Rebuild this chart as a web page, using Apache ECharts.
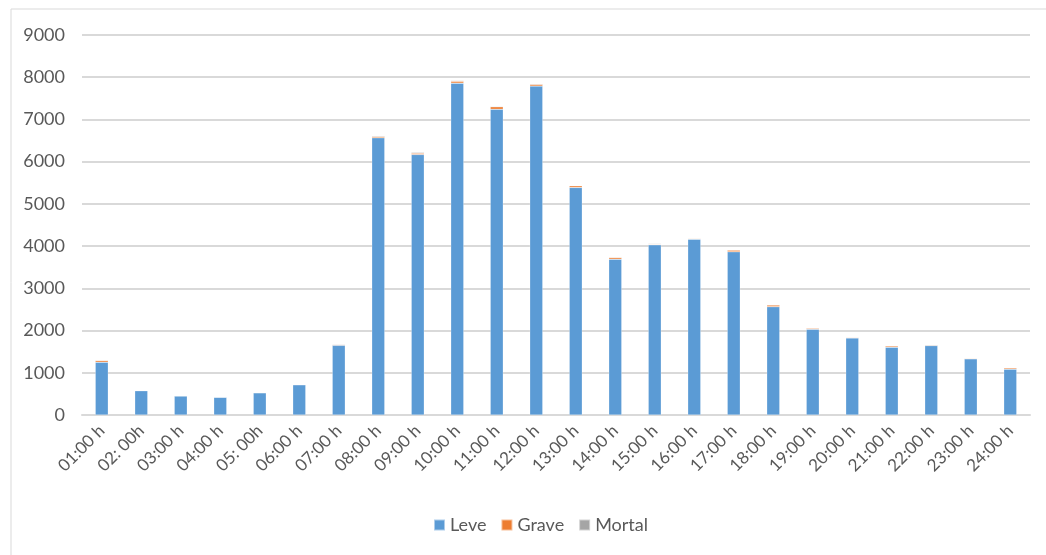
<!DOCTYPE html>
<html>
<head>
<meta charset="utf-8">
<script src="https://cdn.jsdelivr.net/npm/echarts@6/dist/echarts.min.js"></script>
<style>
    html, body { margin: 0; padding: 0; background: #fff; }
    #main { width: 1046px; height: 555px; }
</style>
</head>
<body>
<div id="main"></div>
<script>
// horas
var horas = ['01:00 h', '02: 00h', '03:00 h', '04:00 h', '05: 00h', '06:00 h', '07:00 h', '08:00 h',
    '09:00 h', '10:00 h', '11:00 h', '12:00 h', '13:00 h', '14:00 h', '15:00 h', '16:00 h',
    '17:00 h', '18:00 h', '19:00 h', '20:00 h', '21:00 h', '22:00 h', '23:00 h', '24:00 h'];

var leve = [1250, 575, 450, 420, 525, 715, 1650, 6565, 6170, 7860, 7240, 7790, 5390, 3690, 4030, 4165,
    3865, 2565, 2030, 1825, 1605, 1645, 1330, 1085];
var grave = [40, 10, 10, 8, 10, 12, 15, 30, 30, 45, 60, 40, 40, 40, 15, 15, 40, 40, 25, 15, 30, 15, 15, 30];
var mortal = [12, 8, 7, 6, 10, 8, 15, 18, 20, 15, 15, 15, 10, 12, 15, 12, 12, 12, 10, 10, 12, 12, 10, 12];

var yTicks = [0, 1000, 2000, 3000, 4000, 5000, 6000, 7000, 8000, 9000];

var fonte = 'Lato, "Open Sans", sans-serif';
var myChart = echarts.init(document.getElementById('main'));

function serie(name, data, color) {
    return {
        name: name,
        type: 'bar',
        stack: 'total',
        barWidth: 13,
        itemStyle: {
            color: color,
            borderColor: 'rgba(255,255,255,0.5)',
            borderWidth: 0.5
        },
        data: data
    };
}

var option = {
    animation: false,
    backgroundColor: '#fff',
    color: ['#5B9BD5', '#ED7D31', '#A5A5A5'],
    graphic: [{
        type: 'rect',
        shape: { x: 11, y: 9, width: 1040, height: 560 },
        style: { fill: 'none', stroke: '#d9d9d9', lineWidth: 1 },
        silent: true
    }],
    grid: {
        left: 82,
        right: 16,
        top: 35,
        bottom: 140
    },
    legend: {
        bottom: 16,
        left: 428,
        itemWidth: 11,
        itemHeight: 11,
        itemGap: 14,
        icon: 'rect',
        textStyle: {
            color: '#595959',
            fontSize: 18,
            fontFamily: fonte
        },
        data: ['Leve', 'Grave', 'Mortal']
    },
    xAxis: {
        type: 'category',
        data: horas,
        axisLine: {
            lineStyle: { color: '#d9d9d9', width: 2 }
        },
        axisTick: { show: false },
        axisLabel: {
            rotate: 45,
            interval: 0,
            margin: 13,
            color: '#595959',
            fontSize: 17,
            fontFamily: fonte
        }
    },
    yAxis: {
        type: 'value',
        min: yTicks[0],
        max: yTicks[yTicks.length - 1],
        interval: 1000,
        axisLine: { show: false },
        axisTick: { show: false },
        axisLabel: {
            color: '#595959',
            fontSize: 18,
            margin: 17,
            fontFamily: fonte,
            formatter: function(v) {
                return String(v);
            }
        },
        splitLine: {
            lineStyle: { color: '#d9d9d9', width: 2 }
        }
    },
    series: [
        serie('Leve', leve, '#5B9BD5'),
        serie('Grave', grave, '#ED7D31'),
        serie('Mortal', mortal, '#A5A5A5')
    ]
};

myChart.setOption(option);
</script>
</body>
</html>
